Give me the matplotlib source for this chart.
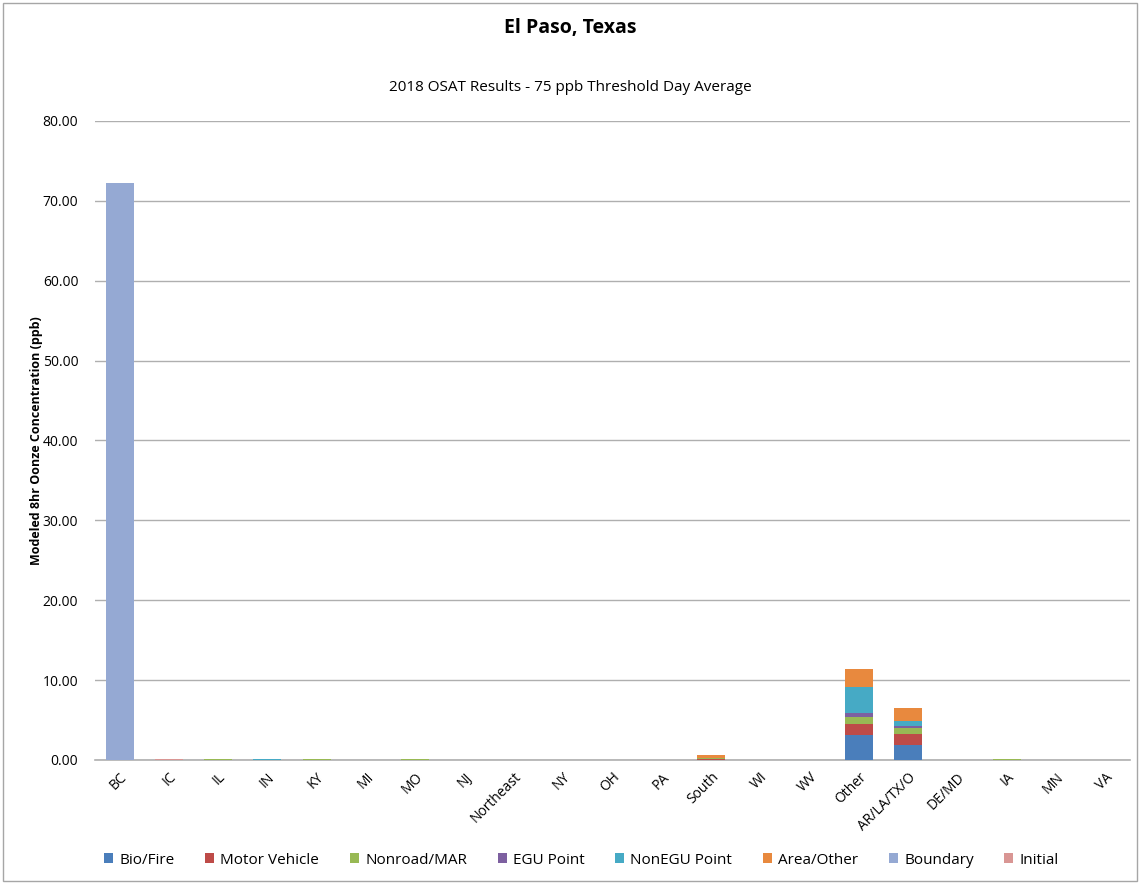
import numpy as np
import matplotlib
matplotlib.use('Agg')
import matplotlib.pyplot as plt
from matplotlib.patches import Rectangle

plt.rcParams['font.family'] = ['Open Sans', 'DejaVu Sans']

categories = ['BC', 'IC', 'IL', 'IN', 'KY', 'MI', 'MO', 'NJ', 'Northeast', 'NY', 'OH',
              'PA', 'South', 'WI', 'WV', 'Other', 'AR/LA/TX/O', 'DE/MD', 'IA', 'MN', 'VA']

# contributions in ppb, one list per source sector
bio_fire = [0, 0, 0.02, 0.01, 0.02, 0, 0.02, 0, 0, 0, 0, 0, 0.05, 0, 0, 3.10, 1.92, 0, 0.02, 0, 0]
motor_vehicle = [0, 0, 0.03, 0.02, 0.04, 0.01, 0.04, 0, 0, 0, 0, 0, 0.12, 0, 0, 1.45, 1.38, 0, 0.02, 0, 0]
nonroad_mar = [0, 0, 0.02, 0.01, 0.02, 0, 0.02, 0, 0, 0, 0, 0, 0.05, 0, 0, 0.85, 0.75, 0, 0.03, 0, 0]
egu_point = [0, 0, 0.02, 0.02, 0.03, 0.01, 0.03, 0, 0, 0, 0, 0, 0.03, 0, 0, 0.45, 0.25, 0, 0.02, 0, 0]
nonegu_point = [0, 0, 0.01, 0.01, 0.01, 0, 0.01, 0, 0, 0, 0, 0, 0.05, 0, 0, 3.25, 0.60, 0, 0.01, 0, 0]
area_other = [0, 0, 0.01, 0.01, 0.01, 0, 0.02, 0, 0, 0, 0, 0, 0.30, 0, 0, 2.30, 1.55, 0, 0.01, 0, 0]
boundary = [72.2, 0, 0, 0, 0, 0, 0, 0, 0, 0, 0, 0, 0, 0, 0, 0, 0, 0, 0, 0, 0]
initial = [0, 0.15, 0, 0, 0, 0, 0, 0, 0, 0, 0, 0, 0, 0, 0, 0, 0, 0, 0, 0, 0]

series = [
    ('Bio/Fire', bio_fire, '#4A7EBB'),
    ('Motor Vehicle', motor_vehicle, '#BE4B48'),
    ('Nonroad/MAR', nonroad_mar, '#98B954'),
    ('EGU Point', egu_point, '#7D60A0'),
    ('NonEGU Point', nonegu_point, '#46AAC5'),
    ('Area/Other', area_other, '#E8893E'),
    ('Boundary', boundary, '#95A9D3'),
    ('Initial', initial, '#D99694'),
]

fig = plt.figure(figsize=(11.4, 8.83), dpi=100)
ax = fig.add_axes([0.0833, 0.1393, 0.9077, 0.7237])

x = np.arange(len(categories))
bottom = np.zeros(len(categories))
for name, vals, col in series:
    vals = np.array(vals)
    ax.bar(x, vals, 0.57, bottom=bottom, color=col, label=name, zorder=3)
    bottom += vals

ax.set_xlim(-0.5, len(categories) - 0.5)
ax.set_ylim(0, 80)
ax.set_yticks(np.arange(0, 81, 10))
ax.set_yticklabels(['%.2f' % v for v in np.arange(0, 81, 10)], fontsize=10)
ax.yaxis.grid(True, color='#AFAFAF', linewidth=1, zorder=0)
ax.tick_params(axis='y', length=0, pad=12)
ax.tick_params(axis='x', length=0, pad=7)
ax.set_xticks(x)
ax.set_xticklabels(categories, rotation=45, ha='right', va='top',
                   rotation_mode='anchor', fontsize=10)
for s in ['top', 'right', 'left']:
    ax.spines[s].set_visible(False)
ax.spines['bottom'].set_color('#AFAFAF')
ax.spines['bottom'].set_linewidth(1.2)

ax.set_ylabel('Modeled 8hr Oonze Concentration (ppb)', fontsize=9, fontweight='bold', labelpad=0)

fig.text(0.5, 0.968, 'El Paso, Texas', ha='center', va='center', fontsize=14, fontweight='bold')
fig.text(0.5, 0.901, '2018 OSAT Results - 75 ppb Threshold Day Average', ha='center', va='center', fontsize=11)

fig.legend(loc='center', bbox_to_anchor=(0.51, 0.026), ncol=8, frameon=False, fontsize=11,
           handlelength=0.6, handleheight=0.6, handletextpad=0.4, columnspacing=2.0)

fig.patches.append(Rectangle((0.003, 0.002), 0.994, 0.995, transform=fig.transFigure,
                             fill=False, edgecolor='#A6A6A6', linewidth=1))

fig.savefig('out.png', dpi=100)
